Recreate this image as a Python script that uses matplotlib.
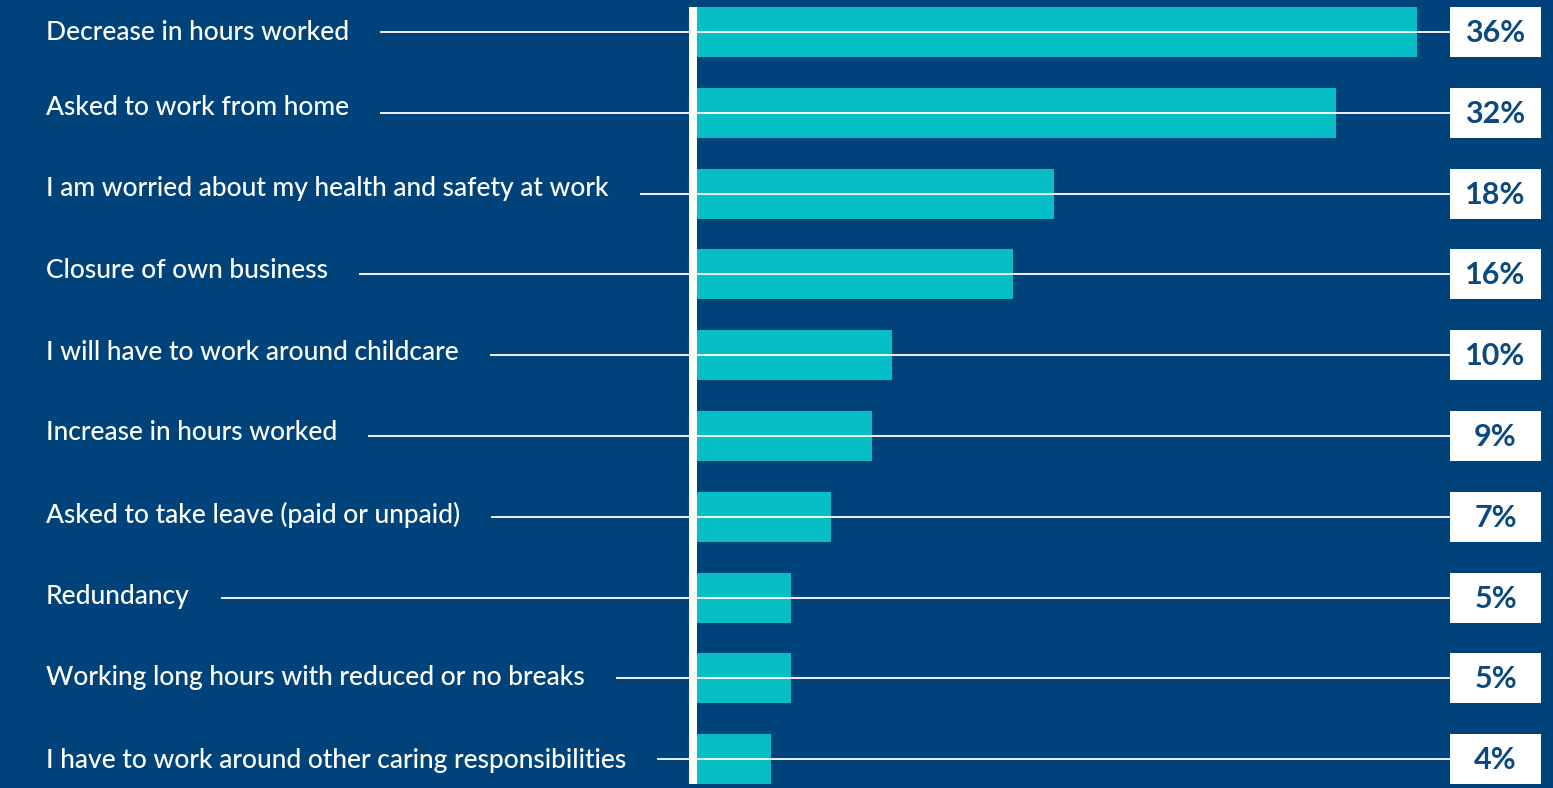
import matplotlib
matplotlib.use("Agg")
import matplotlib.pyplot as plt
import matplotlib.transforms as mtransforms
from matplotlib.patches import Rectangle

labels = [
    "Decrease in hours worked",
    "Asked to work from home",
    "I am worried about my health and safety at work",
    "Closure of own business",
    "I will have to work around childcare",
    "Increase in hours worked",
    "Asked to take leave (paid or unpaid)",
    "Redundancy",
    "Working long hours with reduced or no breaks",
    "I have to work around other caring responsibilities",
]
values = [36, 32, 18, 16, 10, 9, 7, 5, 5, 4]
value_text = [f"{v}%" for v in values]

BG = "#00437B"
TEAL = "#05BEC6"
NAVY = "#0B4980"

W, H, DPI = 1553, 788, 100
fig = plt.figure(figsize=(W / DPI, H / DPI), dpi=DPI, facecolor=BG)
ax = fig.add_axes([0, 0, 1, 1])
ax.set_facecolor(BG)
for s in ax.spines.values():
    s.set_visible(False)
ax.set_xticks([])
ax.set_yticks([])

# pixel layout: zero at x=690, ~20.2 px per percent, rows 80.8 px apart
px_per_pct = 20.2
x0 = 690
pitch = 80.8
first = 32
ax.set_xlim(-x0 / px_per_pct, (W - x0) / px_per_pct)
ax.set_ylim((H - first) / pitch, -first / pitch)

n = len(values)
ypos = list(range(n))
bar_h = 50 / pitch
ax.barh(ypos, values, height=bar_h, color=TEAL, zorder=2)

# white baseline
off = mtransforms.offset_copy(ax.transData, fig=fig, x=3, y=0, units="dots")
ax.plot([0, 0], [-bar_h / 2 - 0.005, n - 1 + bar_h / 2], color="white",
        lw=8 * 72 / DPI, solid_capstyle="butt", transform=off, zorder=4)

tr = ax.get_yaxis_transform()
label_nudge = [-1, 5, 5, 4, 3, 3, 2, 1, 1, -1]
texts = []
for i, lab in enumerate(labels):
    t = ax.text(46 / W, i - label_nudge[i] / pitch, lab, transform=tr,
                color="white", fontsize=19, family="Lato", fontweight="medium",
                ha="left", va="center")
    texts.append(t)

box_l, box_r = 1450, 1541
for i, vt in enumerate(value_text):
    ax.add_patch(Rectangle((box_l / W, i - bar_h / 2), (box_r - box_l) / W, bar_h,
                           transform=tr, facecolor="white", edgecolor="none", zorder=5))
    ax.text((box_l + box_r) / 2 / W, i + 1 / pitch, vt, transform=tr, color=NAVY,
            fontsize=22, fontweight="bold", family="Lato",
            ha="center", va="center", zorder=6)

# leader lines start a little after each label
fig.canvas.draw()
renderer = fig.canvas.get_renderer()
for i, t in enumerate(texts):
    bb = t.get_window_extent(renderer)
    xs = (bb.x1 + 31) / W
    ax.plot([xs, box_l / W], [i, i], transform=tr, color="white", lw=1.3,
            zorder=3, solid_capstyle="butt")

fig.savefig("out.png", dpi=DPI, facecolor=BG)
